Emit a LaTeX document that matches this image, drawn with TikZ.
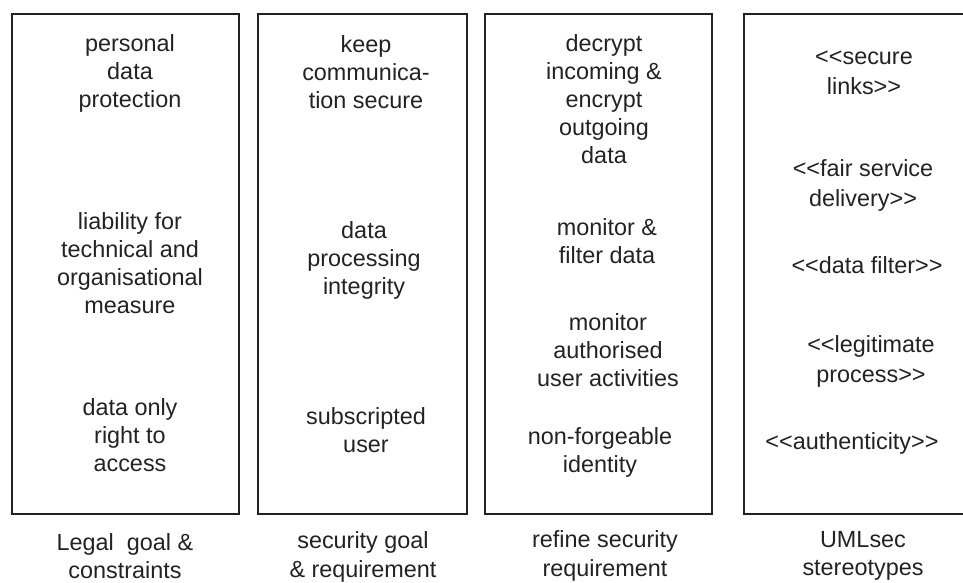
\documentclass[tikz,border=0pt]{standalone}
\usepackage{fontspec}
\setmainfont{Liberation Sans}
\definecolor{ink}{HTML}{222222}
\begin{document}
\begin{tikzpicture}[x=1pt,y=-1pt,
  column/.style={draw=ink, line width=1.8pt, anchor=north west, inner sep=0pt, outer sep=0pt},
  entry/.style={text=ink, align=center, inner sep=0pt, font=\fontsize{23.4}{28}\selectfont},
  wide/.style={font=\fontsize{23.4}{30}\selectfont},
  caption/.style={entry, font=\fontsize{23.4}{28.5}\selectfont}]
  \useasboundingbox (0,0) rectangle (963,582);
  \clip (0,0) rectangle (963,582);

  % the four columns
  \node[column, minimum width=227, minimum height=500] (b1) at (12,14) {};
  \node[column, minimum width=209, minimum height=500] (b2) at (258,14) {};
  \node[column, minimum width=227, minimum height=500] (b3) at (485,14) {};
  \node[column, minimum width=240, minimum height=500] (b4) at (744,14) {};

  % legal goals
  \node[entry] (l1) at (130,73) {personal\\data\\protection};
  \node[entry] (l2) at (130,263) {liability for\\technical and\\organisational\\measure};
  \node[entry] (l3) at (130,435) {data only\\right to\\access};

  % security goals
  \node[entry] (s1) at (366,72) {keep\\communica-\\tion secure};
  \node[entry] (s2) at (364,260) {data\\processing\\integrity};
  \node[entry] (s3) at (366,430) {subscripted\\user};

  % refined requirements
  \node[entry] (r1) at (604,99) {decrypt\\incoming \&\\encrypt\\outgoing\\data};
  \node[entry] (r2) at (607,241) {monitor \&\\filter data};
  \node[entry] (r3) at (608,350) {monitor\\authorised\\user activities};
  \node[entry] (r4) at (600,452) {non-forgeable\\identity};

  % UMLsec stereotypes
  \node[entry, wide] (u1) at (864,73) {<{}<secure\\links>{}>};
  \node[entry, wide] (u2) at (863,185) {<{}<fair service\\delivery>{}>};
  \node[entry, wide] (u3) at (867,265) {<{}<data filter>{}>};
  \node[entry, wide] (u4) at (871,361) {<{}<legitimate\\process>{}>};
  \node[entry, wide] (u5) at (852,443) {<{}<authenticity>{}>};

  % column captions
  \node[caption] (c1) at (125,556) {Legal\ \ goal \&\\constraints};
  \node[caption] (c2) at (363,557) {security goal\\\& requirement};
  \node[caption] (c3) at (605,556) {refine security\\requirement};
  \node[caption] (c4) at (863,556) {UMLsec\\stereotypes};
\end{tikzpicture}
\end{document}
